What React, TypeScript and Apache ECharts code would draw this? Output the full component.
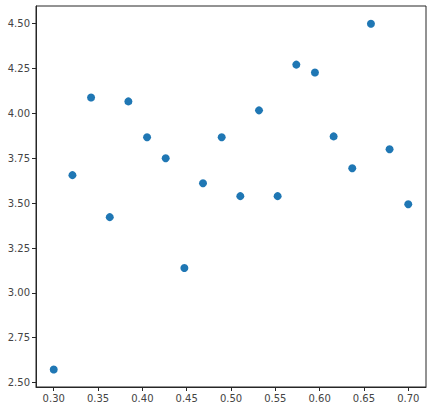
import React, { useEffect, useRef } from "react";
import * as echarts from "echarts";

const xValues = [0.3, 0.3211, 0.3421, 0.3632, 0.3842, 0.4053, 0.4263, 0.4474, 0.4684, 0.4895, 0.5105, 0.5316, 0.5526, 0.5737, 0.5947, 0.6158, 0.6368, 0.6579, 0.6789, 0.7];
const yValues = [2.573, 3.656, 4.089, 3.422, 4.067, 3.867, 3.75, 3.139, 3.611, 3.867, 3.539, 4.017, 3.539, 4.272, 4.228, 3.872, 3.694, 4.5, 3.8, 3.494];
const xTicks = [0.3, 0.35, 0.4, 0.45, 0.5, 0.55, 0.6, 0.65, 0.7];
const yTicks = [2.5, 2.75, 3.0, 3.25, 3.5, 3.75, 4.0, 4.25, 4.5];

export default function App() {
  const ref = useRef<HTMLDivElement>(null);
  useEffect(() => {
    if (!ref.current) return;
    const chart = echarts.init(ref.current, null, { renderer: "svg" });
    const axisColor = "#262626";
    const labelStyle = { color: "#444444", fontSize: 10, fontFamily: "DejaVu Sans" };
    chart.setOption({
      animation: false,
      grid: { left: 36, top: 6, right: 7, bottom: 23, show: true, borderColor: axisColor, borderWidth: 1, backgroundColor: "#ffffff" },
      xAxis: {
        type: "value",
        min: 0.28,
        max: 0.72,
        axisLine: { show: true, lineStyle: { color: axisColor, width: 1 } },
        axisTick: { show: true, inside: false, length: 4, lineStyle: { color: axisColor }, customValues: xTicks },
        axisLabel: { ...labelStyle, margin: 6, customValues: xTicks, formatter: (v: number) => v.toFixed(2) },
        splitLine: { show: false },
      },
      yAxis: {
        type: "value",
        min: 2.4755,
        max: 4.5985,
        axisLine: { show: true, lineStyle: { color: axisColor, width: 1 } },
        axisTick: { show: true, inside: false, length: 4, lineStyle: { color: axisColor }, customValues: yTicks },
        axisLabel: { ...labelStyle, margin: 6, customValues: yTicks, formatter: (v: number) => v.toFixed(2) },
        splitLine: { show: false },
      },
      series: [
        {
          type: "scatter",
          data: xValues.map((x, i) => [x, yValues[i]]),
          symbol: "circle",
          symbolSize: 8,
          itemStyle: { color: "#1f77b4", opacity: 1 },
        },
      ],
    });
    return () => chart.dispose();
  }, []);
  return <div ref={ref} style={{ width: 433, height: 410, position: "absolute", left: 0, top: 0 }} />;
}
